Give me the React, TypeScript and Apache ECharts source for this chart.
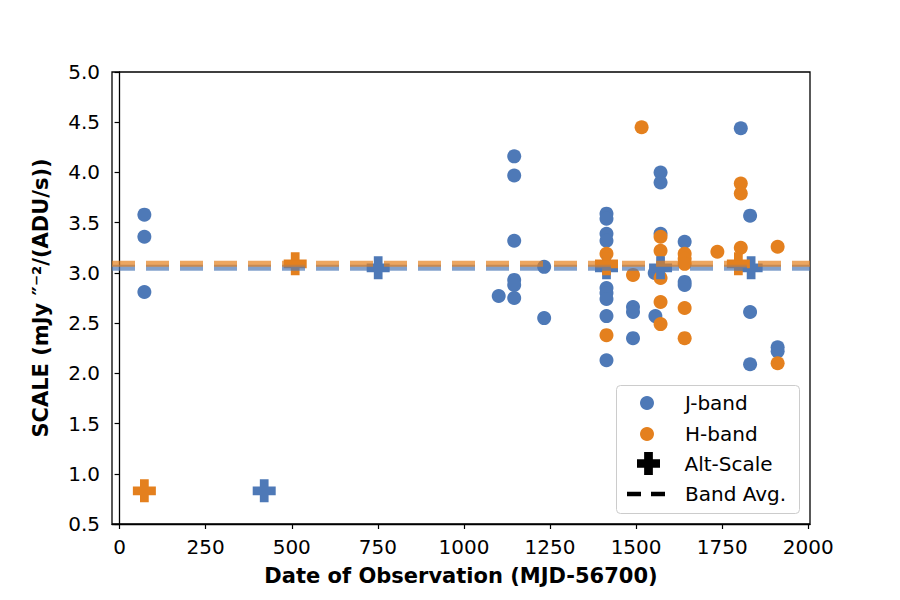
import React, { useEffect, useRef } from "react";
import * as echarts from "echarts";

// ---- data ----
const jDates = [72, 72, 72, 1101, 1146, 1146, 1146, 1146, 1146, 1146, 1233, 1233,
  1414, 1414, 1414, 1414, 1414, 1414, 1414, 1414, 1414, 1491, 1491, 1491, 1554, 1556,
  1571, 1571, 1571, 1641, 1641, 1641, 1804, 1831, 1831, 1831, 1911, 1911];
const jScale = [3.58, 3.36, 2.81, 2.77, 4.16, 3.97, 3.32, 2.93, 2.88, 2.75, 3.06, 2.55,
  3.59, 3.54, 3.39, 3.32, 2.85, 2.80, 2.74, 2.57, 2.13, 2.66, 2.61, 2.35, 3.00, 2.57,
  4.00, 3.90, 3.39, 3.31, 2.91, 2.88, 4.44, 3.57, 2.61, 2.09, 2.26, 2.22];

const hDates = [1414, 1414, 1491, 1516, 1571, 1571, 1571, 1571, 1571, 1641, 1641, 1641,
  1641, 1641, 1736, 1804, 1804, 1804, 1911, 1911];
const hScale = [3.19, 2.38, 2.98, 4.45, 3.36, 3.22, 2.95, 2.71, 2.49, 3.19, 3.14, 3.09,
  2.65, 2.35, 3.21, 3.89, 3.79, 3.25, 3.26, 2.10];

const jAltDates = [420, 751, 1414, 1571, 1834];
const jAltScale = [0.83, 3.05, 3.05, 3.05, 3.05];
const hAltDates = [72, 510, 1414, 1797];
const hAltScale = [0.83, 3.09, 3.09, 3.09];

const jAvg = 3.05;
const hAvg = 3.09;

const xTicks = [0, 250, 500, 750, 1000, 1250, 1500, 1750, 2000];
const xMin = -22;
const xMax = 2005;
const yMin = 0.5;
const yMax = 5.0;
const yStep = 0.5;

const BLUE = "#4e79b7";
const ORANGE = "#e4801e";
const FONT = "DejaVu Sans";
const PLUS = "path://M31,0L69,0L69,31L100,31L100,69L69,69L69,100L31,100L31,69L0,69L0,31L31,31Z";
const DASH_ICON = "path://M0,0L14,0L14,4.5L0,4.5Z M24,0L38,0L38,4.5L24,4.5Z";

const zip = (a: number[], b: number[]) => a.map((v, i) => [v, b[i]]);

export default function App() {
  const ref = useRef<HTMLDivElement>(null);
  useEffect(() => {
    if (!ref.current) return;
    const chart = echarts.init(ref.current, null, { renderer: "svg" });
    const legendText = (pad: number) => ({
      fontFamily: FONT, fontSize: 20, color: "#000", padding: [0, 0, 0, pad], lineHeight: 14,
    });
    const legendBase = {
      orient: "vertical",
      padding: 0,
      itemWidth: 38,
      itemHeight: 14,
      selectedMode: false,
    };
    chart.setOption({
      animation: false,
      backgroundColor: "#fff",
      grid: {
        left: 112, right: 90, top: 72, bottom: 76,
        show: true, borderColor: "#000", borderWidth: 1.3, backgroundColor: "transparent",
      },
      xAxis: {
        type: "value", min: xMin, max: xMax,
        name: "Date of Observation (MJD-56700)", nameLocation: "middle", nameGap: 41,
        nameTextStyle: { fontFamily: FONT, fontSize: 21, fontWeight: "bold", color: "#000" },
        axisLine: { show: true, lineStyle: { color: "#000", width: 1.3 } },
        axisTick: { show: true, length: 5, lineStyle: { color: "#000", width: 1.2 }, customValues: xTicks },
        axisLabel: {
          color: "#000", fontFamily: FONT, fontSize: 20, margin: 13, customValues: xTicks,
          formatter: (v: number) => String(v),
        },
        splitLine: { show: false },
      },
      yAxis: {
        type: "value", min: yMin, max: yMax, interval: yStep,
        name: "SCALE (mJy ″⁻²/(ADU/s))", nameLocation: "middle", nameGap: 61, nameRotate: 90,
        nameTextStyle: { fontFamily: FONT, fontSize: 21, fontWeight: "bold", color: "#000" },
        axisLine: { show: true, lineStyle: { color: "#000", width: 1.3 } },
        axisTick: { show: true, length: 5, lineStyle: { color: "#000", width: 1.2 } },
        axisLabel: { color: "#000", fontFamily: FONT, fontSize: 20, margin: 12, formatter: (v: number) => v.toFixed(1) },
        splitLine: { show: false },
      },
      legend: [
        { ...legendBase, left: 640, top: 393, textStyle: legendText(14), data: [{ name: "J-band", icon: "circle" }] },
        { ...legendBase, left: 640, top: 424, textStyle: legendText(14), data: [{ name: "H-band", icon: "circle" }] },
        { ...legendBase, left: 637, top: 452, itemHeight: 23, textStyle: legendText(12), data: [{ name: "Alt-Scale", icon: PLUS }] },
        { ...legendBase, left: 627, top: 484, textStyle: legendText(15), data: [{ name: "Band Avg.", icon: DASH_ICON }] },
      ],
      graphic: [
        {
          type: "rect", z: 3,
          shape: { x: 616.5, y: 385.5, width: 183, height: 128, r: 4 },
          style: { fill: "rgba(255,255,255,0.85)", stroke: "#cccccc", lineWidth: 1 },
        },
      ],
      series: [
        { name: "J-band", type: "scatter", data: zip(jDates, jScale), symbol: "circle", symbolSize: 14, itemStyle: { color: BLUE, opacity: 1 }, z: 2 },
        { name: "H-band", type: "scatter", data: zip(hDates, hScale), symbol: "circle", symbolSize: 14, itemStyle: { color: ORANGE, opacity: 1 }, z: 2 },
        { name: "J Alt-Scale", type: "scatter", data: zip(jAltDates, jAltScale), symbol: PLUS, symbolSize: 23, itemStyle: { color: BLUE, opacity: 1 }, z: 2 },
        { name: "H Alt-Scale", type: "scatter", data: zip(hAltDates, hAltScale), symbol: PLUS, symbolSize: 23, itemStyle: { color: ORANGE, opacity: 1 }, z: 2 },
        { name: "Alt-Scale", type: "scatter", data: [], symbol: PLUS, symbolSize: 23, itemStyle: { color: "#000", opacity: 1 } },
        {
          name: "J avg", type: "line", data: [[xMin, jAvg], [xMax, jAvg]], symbol: "none", z: 3,
          lineStyle: { color: BLUE, width: 6, opacity: 0.7, type: [23, 11] }, itemStyle: { color: BLUE },
        },
        {
          name: "H avg", type: "line", data: [[xMin, hAvg], [xMax, hAvg]], symbol: "none", z: 3,
          lineStyle: { color: ORANGE, width: 6, opacity: 0.7, type: [23, 11] }, itemStyle: { color: ORANGE },
        },
        {
          name: "Band Avg.", type: "line", data: [], symbol: "none",
          lineStyle: { color: "#000", width: 4.5, type: [14, 10] }, itemStyle: { color: "#000" },
        },
      ],
    });
    return () => chart.dispose();
  }, []);
  return <div ref={ref} style={{ position: "fixed", left: 0, top: 0, width: 900, height: 600 }} />;
}
